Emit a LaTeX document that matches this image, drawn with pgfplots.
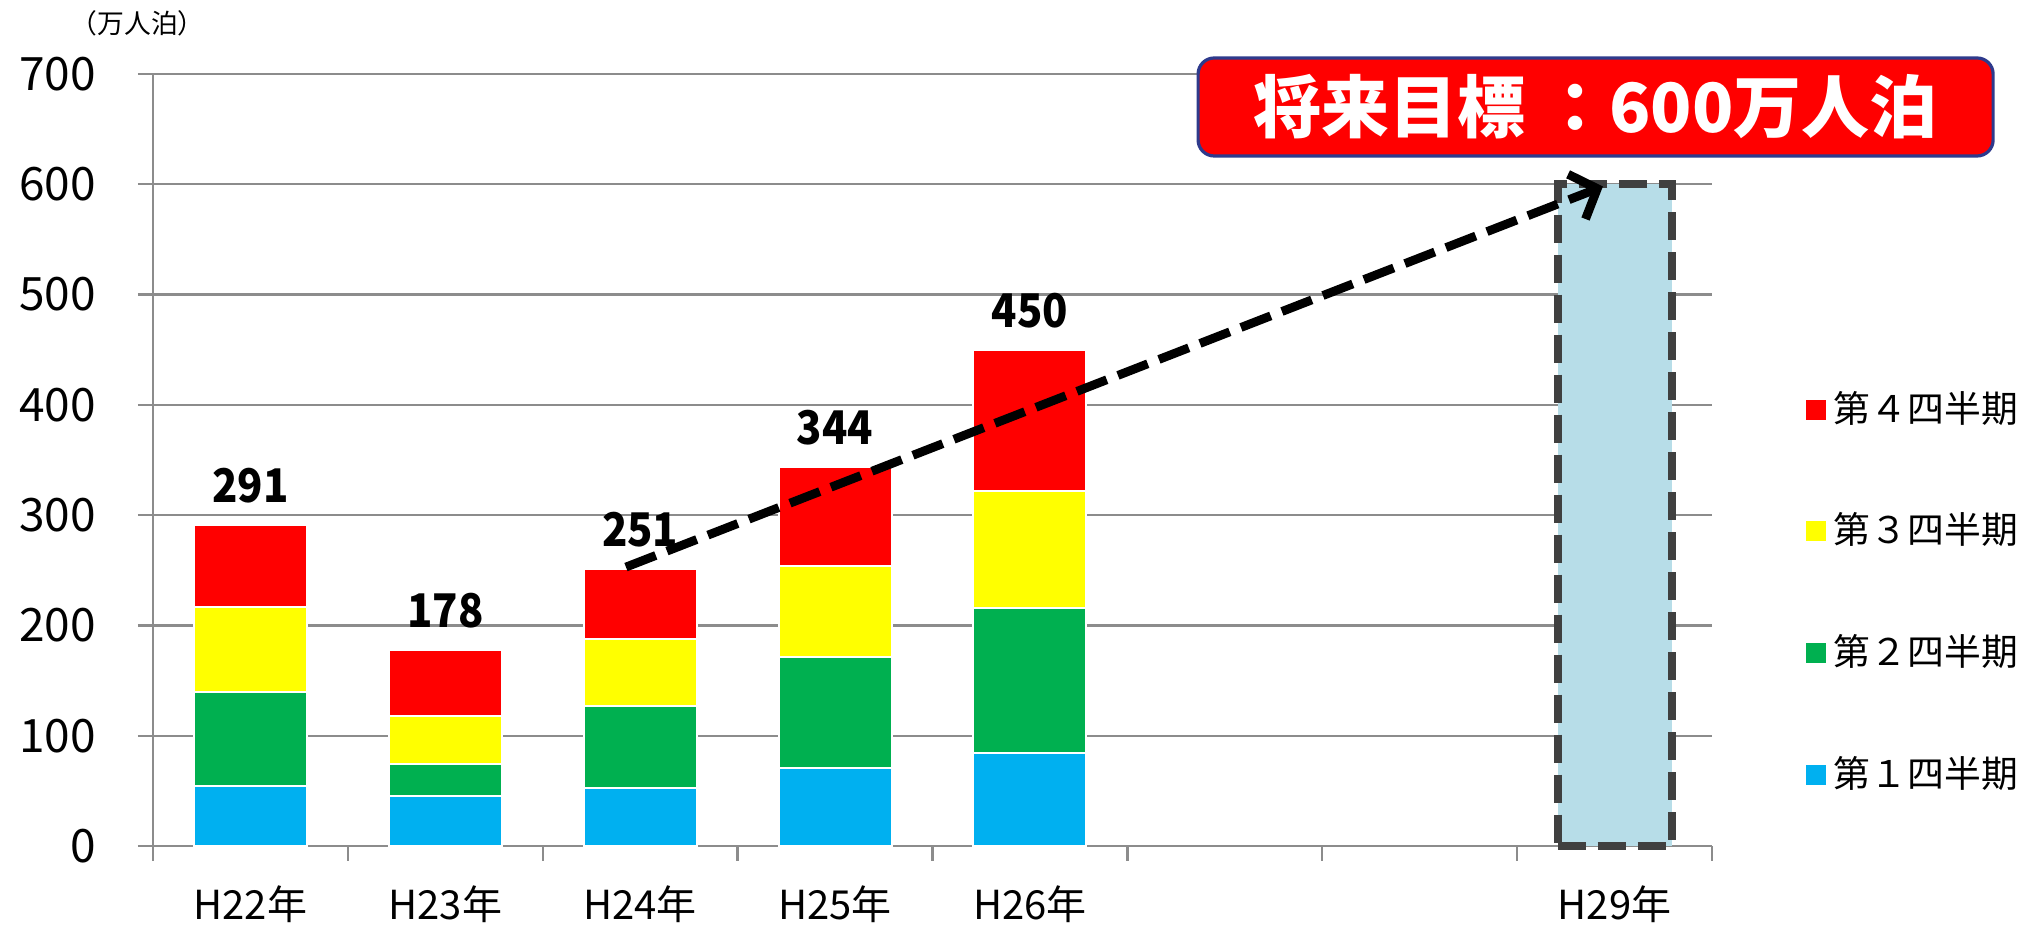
\documentclass[border=0pt]{standalone}
\usepackage{pgfplots}
\pgfplotsset{compat=1.18}
\usepackage{fontspec}
\setmainfont{Noto Sans CJK JP}
\usetikzlibrary{arrows.meta}

\definecolor{qone}{HTML}{00B0F0}
\definecolor{qtwo}{HTML}{00B050}
\definecolor{qthree}{HTML}{FFFF00}
\definecolor{qfour}{HTML}{FF0000}
\definecolor{gridgray}{HTML}{8C8C8C}
\definecolor{goalfill}{HTML}{B7DDE8}
\definecolor{goaledge}{HTML}{404040}
\definecolor{boxedge}{HTML}{2E3A8C}

\pgfplotsset{
  frame/.style={
    scale only axis, width=389.75pt, height=193pt,
    at={(38.25pt,21pt)}, anchor=south west,
    xmin=-0.5, xmax=7.5, ymin=0, ymax=700,
  }
}

\begin{document}
\begin{tikzpicture}
\path[use as bounding box] (0,0) rectangle (511pt,232.5pt);

\begin{axis}[
  frame,
  axis x line*=bottom, axis y line*=left,
  axis line style={gridgray, line width=0.6pt},
  ymajorgrids, grid style={gridgray, line width=0.6pt},
  ytick={0,100,...,700},
  tick align=outside, major tick length=3.75pt,
  tick style={gridgray, line width=0.6pt},
  xtick={-0.5,0.5,...,7.5}, xticklabels={},
  extra x ticks={0,1,2,3,4,7},
  extra x tick labels={H22年,H23年,H24年,H25年,H26年,H29年},
  extra x tick style={major tick length=0pt},
  /pgf/number format/assume math mode=true,
  yticklabel style={font=\fontsize{11.5}{13}\selectfont, xshift=-7pt},
  xticklabel style={font=\fontsize{10}{12}\selectfont, yshift=-6.5pt},
  ybar stacked, bar width=0.58,
  reverse legend,
  legend cell align=left,
  legend image code/.code={\fill[#1,draw=none] (0pt,-2.5pt) rectangle (5pt,2.5pt);},
  legend style={draw=none, fill=none, at={(1.052,0.3285)}, anchor=west,
    font=\fontsize{9.2}{11}\selectfont, row sep=17.2pt},
  clip=false,
]
\addplot[fill=qone, draw=white, line width=0.5pt]
  coordinates {(0,54) (1,45) (2,53) (3,71) (4,84)};
\addlegendentry{第１四半期}
\addplot[fill=qtwo, draw=white, line width=0.5pt]
  coordinates {(0,86) (1,29) (2,74) (3,100) (4,132)};
\addlegendentry{第２四半期}
\addplot[fill=qthree, draw=white, line width=0.5pt]
  coordinates {(0,77) (1,44) (2,61) (3,83) (4,106)};
\addlegendentry{第３四半期}
\addplot[fill=qfour, draw=white, line width=0.5pt]
  coordinates {(0,74) (1,60) (2,63) (3,90) (4,128)};
\addlegendentry{第４四半期}
\end{axis}

\begin{axis}[frame, hide axis, clip=false]
\addplot[ybar, bar width=0.585, fill=goalfill, draw=goaledge, line width=2pt,
  dash pattern=on 7pt off 3pt] coordinates {(7,600)};
% totals above the bars
\addplot[draw=none, mark=none, point meta=explicit symbolic,
  nodes near coords={\scalebox{0.9}[1]{\pgfplotspointmeta}},
  nodes near coords style={font=\bfseries\fontsize{11.6}{13}\selectfont,
    text=black, anchor=base, yshift=5.6pt}]
  coordinates {(0,291) [291] (1,178) [178] (2,251) [251] (3,344) [344] (4,450) [450]};
\draw[black, line width=2.2pt, dash pattern=on 8pt off 3pt,
  -{Straight Barb[length=5.5pt,width=12pt]}]
  (axis cs:1.927,252.9) -- (axis cs:6.94,598);
\end{axis}

\node[font=\fontsize{6.7}{7}\selectfont] at (34.4pt,226.75pt) {（万人泊）};
\node[fill=red, draw=boxedge, line width=0.8pt, rounded corners=4pt,
  minimum width=198.75pt, minimum height=24.5pt, text=white,
  font=\bfseries\fontsize{17}{17}\selectfont] at (398.9pt,205.75pt) {将来目標 ：600万人泊};
\end{tikzpicture}
\end{document}
